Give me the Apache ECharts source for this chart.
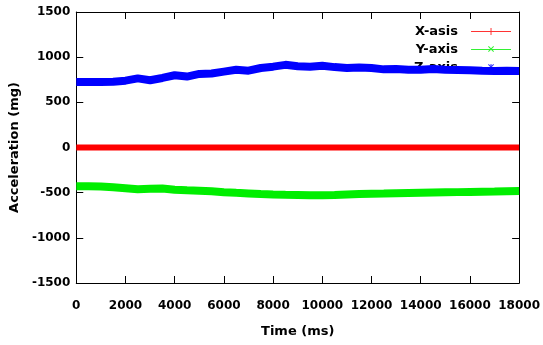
<!DOCTYPE html>
<html><head><meta charset="utf-8">
<script src="https://cdn.jsdelivr.net/npm/echarts@6/dist/echarts.min.js"></script>
<style>html,body{margin:0;padding:0;background:#fff}#c{width:543px;height:345px}</style>
</head><body><div id="c"></div>
<script>
const timeMs = [0,500,1000,1500,2000,2500,3000,3500,4000,4500,5000,5500,6000,6500,7000,7500,8000,8500,9000,9500,10000,10500,11000,11500,12000,12500,13000,13500,14000,14500,15000,15500,16000,16500,17000,17500,18000];
const xAxisSeries = [0,0,0,0,0,0,0,0,0,0,0,0,0,0,0,0,0,0,0,0,0,0,0,0,0,0,0,0,0,0,0,0,0,0,0,0,0];
const yAxisSeries = [-430,-430,-432,-440,-450,-462,-458,-455,-468,-474,-478,-485,-495,-502,-508,-515,-520,-524,-526,-528,-528,-525,-520,-515,-512,-510,-506,-503,-500,-498,-496,-494,-492,-490,-488,-485,-482];
const zAxisSeries = [725,725,726,728,740,765,745,770,800,785,815,820,840,860,850,880,895,915,900,895,905,890,880,885,880,865,870,860,862,868,860,858,855,850,848,850,848];
const seriesNames = ['X-asis','Y-axis','Z-axis'];
const xTicks = {min:0, max:18000, interval:2000};
const yTicks = {min:-1500, max:1500, interval:500};

const colors = ['#ff0000','#00ee00','#0000ff'];
const pair = vals => timeMs.map((t,i)=>[t, vals[i]]);
const hbar = 'M0,4L40,4L40,5L0,5Z';
const plus = 'M19.5,1L20.5,1L20.5,8L19.5,8Z';
const cross = 'M17,1.7L17.7,1L23,6.3L22.3,7Z M22.3,1L23,1.7L17.7,7L17,6.3Z';
const guard = 'M0,0L0.01,0L0.01,0.01Z M0,9L0.01,9L0.01,9.01Z';
const icons = ['path://'+guard+' '+hbar+' '+plus, 'path://'+guard+' '+hbar+' '+cross, 'path://'+guard+' '+hbar+' '+plus+' '+cross];

const tickFont = {fontFamily:'DejaVu Sans', fontWeight:'bold', fontSize:12, color:'#000'};
const nameFont = {fontFamily:'DejaVu Sans', fontWeight:'bold', fontSize:13, color:'#000'};
const axisCommon = {
  type:'value',
  axisLine:{show:true, onZero:false, lineStyle:{color:'#000', width:1}},
  axisTick:{show:true, inside:true, length:7, lineStyle:{color:'#000'}},
  splitLine:{show:false}
};

const chart = echarts.init(document.getElementById('c'), null, {renderer:'canvas'});
chart.setOption({
  animation:false,
  grid:{left:72, right:22, top:12, bottom:62},
  legend:{
    orient:'vertical', right:27, top:20, align:'right', z:1,
    itemWidth:40, itemHeight:9, itemGap:5,
    itemStyle:{borderWidth:0},
    lineStyle:{width:0},
    textStyle:Object.assign({padding:[0,8,0,0]}, nameFont),
    data: seriesNames.map((n,i)=>({name:n, icon:icons[i],
      itemStyle:{color:colors[i], borderColor:colors[i], borderWidth:0, opacity:0.8}}))
  },
  xAxis:[
    Object.assign({}, axisCommon, xTicks, {position:'bottom',
      axisLabel:Object.assign({margin:17, formatter: v => String(v)}, tickFont),
      name:'Time (ms)', nameLocation:'middle', nameGap:42, nameTextStyle:nameFont}),
    Object.assign({}, axisCommon, xTicks, {position:'top', axisLabel:{show:false}})
  ],
  yAxis:[
    Object.assign({}, axisCommon, yTicks, {position:'left',
      axisLabel:Object.assign({margin:6, formatter: v => String(v)}, tickFont),
      name:'Acceleration (mg)', nameLocation:'middle', nameGap:43, nameTextStyle:nameFont}),
    Object.assign({}, axisCommon, yTicks, {position:'right', axisLabel:{show:false}})
  ],
  series:[xAxisSeries, yAxisSeries, zAxisSeries].map((vals,i)=>({
    name:seriesNames[i], type:'line', z:3, data:pair(vals), showSymbol:false, symbol:'none',
    lineStyle:{color:colors[i], width: i===0 ? 6 : 8}, itemStyle:{color:colors[i]}
  }))
});
</script></body></html>
